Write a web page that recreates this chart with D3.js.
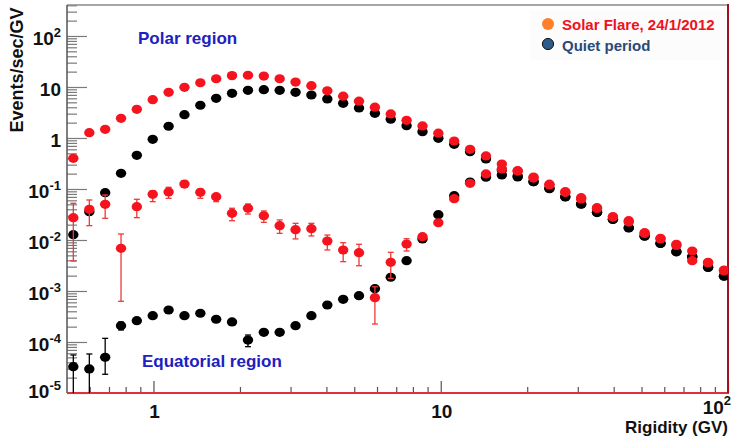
<!DOCTYPE html>
<html><head><meta charset="utf-8">
<script src="https://cdn.jsdelivr.net/npm/d3@7"></script>
<style>
body{margin:0;background:#fff}
svg{display:block}
text{font-family:"Liberation Sans",Arial,Helvetica,sans-serif;font-weight:bold}
</style>
</head><body>
<svg id="c" width="746" height="438"></svg>
<script>
// ---------- data ----------
const rigidity = [0.526,0.598,0.679,0.771,0.875,0.994,1.129,1.282,1.456,1.653,1.877,2.133,2.422,2.750,3.123,3.546,4.029,4.575,5.194,5.900,6.699,7.606,8.640,9.81,11.14,12.65,14.37,16.32,18.53,21.04,23.90,27.14,30.82,35.00,39.75,45.13,51.26,58.21,66.12,75.08,85.26,96.83];

const polarFlare = [0.40,1.27,1.48,2.43,3.65,5.63,7.87,9.86,12.1,14.5,16.7,17.0,16.4,14.5,12.5,10.6,8.42,6.60,5.27,4.02,2.96,2.22,1.72,1.24,0.873,0.600,0.444,0.309,0.229,0.172,0.124,0.0886,0.0675,0.0430,0.0286,0.0239,0.0139,0.0108,0.00824,0.00608,0.00365,0.00258];

const polarQuiet = [0.0127,0.0359,0.0846,0.203,0.458,0.943,1.70,2.86,4.38,6.00,7.52,8.61,8.85,8.61,7.87,6.97,5.82,4.79,3.87,3.05,2.33,1.74,1.33,0.987,0.752,0.539,0.388,0.236,0.180,0.139,0.103,0.0706,0.0508,0.0349,0.0255,0.0174,0.0120,0.00861,0.00590,0.00471,0.00292,0.00197];

const eqFlare = [0.0274,0.0400,0.0501,0.00687,0.0450,0.0787,0.0874,0.125,0.0862,0.0706,0.0334,0.0419,0.0299,0.0191,0.0159,0.0167,0.00955,0.00637,0.00564,0.000739,0.00365,0.00835,0.0116,0.0218,0.0645,0.129,0.197,0.247,0.225,0.164,0.120,0.0854,0.0637,0.0415,0.0282,0.0225,0.0134,0.0105,0.00780,0.00393,0.00354,0.00247];
const eqFlareHi = [0.0525,0.0609,0.0763,0.0131,0.0628,0.0926,0.108,0.144,0.0986,0.0797,0.0419,0.0508,0.0371,0.0247,0.0212,0.0212,0.0125,0.00885,0.00824,0.00121,0.00574,0.0106,0.0128,0.0235,null,null,null,null,null,null,null,null,null,null,null,null,null,null,null,null,null,null];
const eqFlareLo = [0.00387,0.0191,0.0266,0.000628,0.0274,0.0564,0.0657,0.110,0.0657,0.0564,0.0239,0.0323,0.0222,0.0135,0.0105,0.0120,0.00637,0.00376,0.00313,0.000225,0.00177,0.00608,0.0104,0.0200,null,null,null,null,null,null,null,null,null,null,null,null,null,null,null,null,null,null];

const eqQuiet = [3.28e-5,2.96e-5,5.01e-5,2.09e-4,2.62e-4,3.28e-4,4.24e-4,3.28e-4,3.66e-4,2.79e-4,2.47e-4,1.09e-4,1.55e-4,1.55e-4,2.09e-4,3.28e-4,5.31e-4,6.87e-4,8.09e-4,1.11e-3,1.86e-3,3.93e-3,0.0105,0.0313,0.0739,0.137,0.170,0.188,0.172,0.139,0.101,0.0700,0.0503,0.0345,0.0252,0.0172,0.0119,0.00855,0.00585,0.00468,0.00290,0.00195];
const eqQuietHi = [5.56e-5,5.82e-5,1.18e-4,2.45e-4,null,null,null,null,null,null,null,1.37e-4,null,null,null,null,null,null,null,null,null,null,null,null,null,null,null,null,null,null,null,null,null,null,null,null,null,null,null,null,null,null];
const eqQuietLo = [5e-6,5e-6,2.33e-5,1.72e-4,null,null,null,null,null,null,null,8.09e-5,null,null,null,null,null,null,null,null,null,null,null,null,null,null,null,null,null,null,null,null,null,null,null,null,null,null,null,null,null,null];

const yTickValues = [1e2,1e1,1,1e-1,1e-2,1e-3,1e-4,1e-5];
const yTickBase   = ["10","10","1","10","10","10","10","10"];
const yTickSup    = ["2","","","-1","-2","-3","-4","-5"];
const xTickValues = [1,10,100];
const xTickBase   = ["1","10","10"];
const xTickSup    = ["","","2"];

const legendLabels = ["Solar Flare, 24/1/2012","Quiet period"];

// ---------- scales ----------
const L=67, R=728, T=5, B=393;
const x = d3.scaleLog().domain([0.5,100]).range([L,R]);
const y = d3.scaleLog().domain([1e-5,405]).range([B,T]);

const svg = d3.select("#c");
svg.append("rect").attr("width",746).attr("height",438).attr("fill","#fff");

// faint legend panel
svg.append("rect").attr("x",530).attr("y",10).attr("width",195).attr("height",50).attr("fill","#fcfcfc");

// ---------- axes ticks ----------
const yMinor=[]; for(let e=-5;e<=2;e++){for(let k=2;k<=9;k++){const v=k*Math.pow(10,e); if(v<=405) yMinor.push(v);}}
const xMinor=[]; for(let e=-1;e<=1;e++){for(let k=2;k<=9;k++){const v=k*Math.pow(10,e); if(v>0.5&&v<100) xMinor.push(v);}}

const gy = svg.append("g").attr("transform",`translate(${L},0)`);
gy.append("g").call(d3.axisRight(y).tickValues(yMinor).tickSize(10).tickFormat(""));
gy.append("g").call(d3.axisRight(y).tickValues(yTickValues).tickSize(20).tickFormat(""));
gy.selectAll("path.domain").remove();
gy.selectAll("line").attr("stroke","#7a7a7a").attr("stroke-width",1.2);

const gx = svg.append("g").attr("transform",`translate(0,${B})`);
gx.append("g").call(d3.axisTop(x).tickValues(xMinor).tickSize(6).tickFormat(""));
gx.append("g").call(d3.axisTop(x).tickValues(xTickValues).tickSize(12).tickFormat(""));
gx.selectAll("path.domain").remove();
gx.selectAll("line").attr("stroke","#555").attr("stroke-width",1.2);

// ---------- frame ----------
svg.append("line").attr("x1",L).attr("x2",R).attr("y1",T).attr("y2",T).attr("stroke","#8a8a8a").attr("stroke-width",1.5);
svg.append("line").attr("x1",L).attr("x2",L).attr("y1",T).attr("y2",B).attr("stroke","#555").attr("stroke-width",1.5);
svg.append("line").attr("x1",L).attr("x2",R+1).attr("y1",B).attr("y2",B).attr("stroke","#e0303a").attr("stroke-width",2);
svg.append("line").attr("x1",R).attr("x2",R).attr("y1",T-1).attr("y2",B).attr("stroke","#a01020").attr("stroke-width",2);

// ---------- tick labels ----------
yTickValues.forEach((v,i)=>{
  const t = svg.append("text").attr("x",61).attr("y",y(v)+(v===1e-5?5:9)).attr("text-anchor","end").attr("font-size",19).attr("fill","#111");
  t.append("tspan").text(yTickBase[i]);
  if(yTickSup[i]) t.append("tspan").attr("font-size",13).attr("dy",-8).text(yTickSup[i]);
});
xTickValues.forEach((v,i)=>{
  const last = i===xTickValues.length-1;
  const t = svg.append("text").attr("x",last? x(v)+3 : x(v)+1).attr("y",last?414:418).attr("text-anchor",last?"end":"middle").attr("font-size",19).attr("fill","#111");
  t.append("tspan").text(xTickBase[i]);
  if(xTickSup[i]) t.append("tspan").attr("font-size",13).attr("dy",-9).text(xTickSup[i]);
});

// axis titles
svg.append("text").attr("transform","translate(23,70) rotate(-90)").attr("text-anchor","middle").attr("font-size",18).attr("fill","#111").text("Events/sec/GV");
svg.append("text").attr("x",R).attr("y",433).attr("text-anchor","end").attr("font-size",17).attr("fill","#111").text("Rigidity (GV)");

// region labels
svg.append("text").attr("x",138).attr("y",44).attr("font-size",17).attr("fill","#2020c0").text("Polar region");
svg.append("text").attr("x",142).attr("y",367).attr("font-size",17).attr("fill","#2020c0").text("Equatorial region");

// ---------- data marks ----------
const plot = svg.append("g");
svg.append("clipPath").attr("id","clip").append("rect").attr("x",L).attr("y",T).attr("width",R-L).attr("height",B-T);
plot.attr("clip-path","url(#clip)");

function errBars(vals, lo, hi, color){
  const idx = d3.range(vals.length).filter(i=>lo[i]!=null && hi[i]!=null);
  const g = plot.append("g").attr("stroke",color).attr("stroke-width",1.3);
  g.selectAll("line.v").data(idx).join("line").attr("x1",i=>x(rigidity[i])).attr("x2",i=>x(rigidity[i]))
    .attr("y1",i=>y(lo[i])).attr("y2",i=>y(hi[i]));
  g.selectAll("line.t").data(idx).join("line").attr("x1",i=>x(rigidity[i])-3).attr("x2",i=>x(rigidity[i])+3)
    .attr("y1",i=>y(hi[i])).attr("y2",i=>y(hi[i]));
  g.selectAll("line.b").data(idx).join("line").attr("x1",i=>x(rigidity[i])-3).attr("x2",i=>x(rigidity[i])+3)
    .attr("y1",i=>y(lo[i])).attr("y2",i=>y(lo[i]));
}
function dots(vals, color){
  plot.append("g").selectAll("ellipse").data(vals).join("ellipse")
    .attr("cx",(d,i)=>x(rigidity[i])).attr("cy",d=>y(d)).attr("rx",5.2).attr("ry",4.6).attr("fill",color);
}

errBars(eqQuiet, eqQuietLo, eqQuietHi, "#000");
dots(eqQuiet, "#000");
dots(polarQuiet, "#000");
errBars(eqFlare, eqFlareLo, eqFlareHi, "#f03838");
dots(eqFlare, "#f5141e");
dots(polarFlare, "#f5141e");

// ---------- legend ----------
svg.append("circle").attr("cx",548).attr("cy",24).attr("r",6).attr("fill","#ff7f2a");
svg.append("circle").attr("cx",548).attr("cy",44).attr("r",5.6).attr("fill","#2b5c8c").attr("stroke","#111").attr("stroke-width",1);
svg.append("text").attr("x",562).attr("y",30).attr("font-size",15).attr("fill","#f01020").text(legendLabels[0]);
svg.append("text").attr("x",562).attr("y",51).attr("font-size",15).attr("fill","#2a4a78").text(legendLabels[1]);
</script>
</body></html>
